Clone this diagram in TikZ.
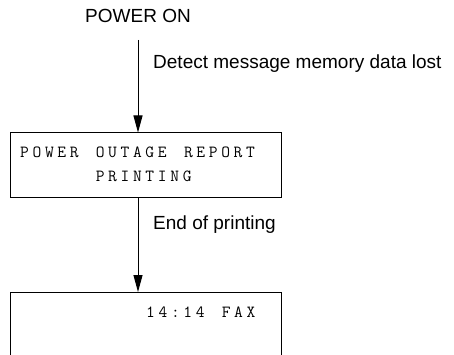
\documentclass[tikz,border=0pt]{standalone}
\usepackage{fontspec}
\setmainfont{Liberation Sans}
\usetikzlibrary{arrows.meta}
\newlength{\lcdgap}
\setlength{\lcdgap}{3.67pt}
\def\lcdspaced#1{\lcdstep#1\relax}
\def\lcdstep#1{\ifx#1\relax\else#1\kern\lcdgap\expandafter\lcdstep\fi}
\begin{document}
\begin{tikzpicture}[x=1pt,y=-1pt,
  lbl/.style={inner sep=0pt,anchor=base west,font=\fontsize{19}{19}\selectfont},
  lcdtext/.style={inner sep=0pt,anchor=base west,font=\fontsize{17}{17}\ttfamily},
  flow/.style={line width=1pt,-{Triangle[width=9pt,length=17pt]}},
  panel/.style={line width=1pt}]
\useasboundingbox (0,0) rectangle (454,355);
\node[inner sep=0pt,anchor=base,font=\fontsize{19}{19}\selectfont] (on) at (138,23) {POWER ON};
\coordinate (a1s) at (138,40);
\node[draw,panel,minimum width=271pt,minimum height=64pt,inner sep=0pt] (box1) at (145.5,165) {};
\node[lbl] (detect) at (153,69) {Detect message memory data lost};
\draw[flow] (a1s) -- (box1.north -| a1s);
\node[lcdtext] (w1) at (20,158) {\lcdspaced{POWER}};
\node[lcdtext] (w2) at (95.6,158) {\lcdspaced{OUTAGE}};
\node[lcdtext] (w3) at (183.8,158) {\lcdspaced{REPORT}};
\node[lcdtext] (w4) at (95.6,182) {\lcdspaced{PRINTING}};
\coordinate (b2tl) at (10,292);
\coordinate (b2tr) at (281,292);
\coordinate (b2bl) at (10,356);
\coordinate (b2br) at (281,356);
\draw[panel] (b2bl) -- (b2tl) -- (b2tr) -- (b2br);
\coordinate (a2e) at (138,292);
\draw[flow] (box1.south -| a2e) -- (a2e);
\node[lbl] (end) at (153,229) {End of printing};
\node[lcdtext] (t1) at (146,317) {\lcdspaced{14:14}};
\node[lcdtext] (t2) at (221.6,317) {\lcdspaced{FAX}};
\end{tikzpicture}
\end{document}
